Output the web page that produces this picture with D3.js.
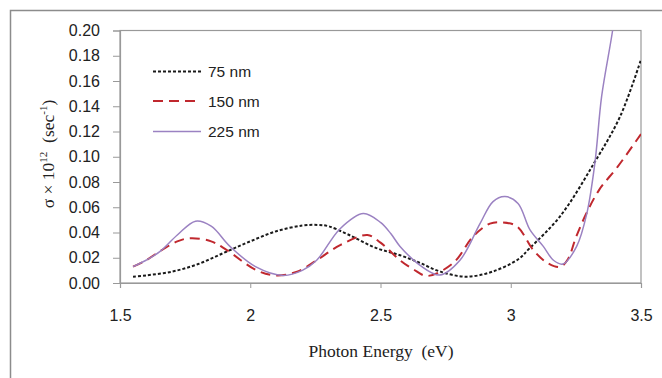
<!DOCTYPE html>
<html>
<head>
<meta charset="utf-8">
<script src="https://cdn.jsdelivr.net/npm/d3@7"></script>
<style>
  body { margin: 0; background: #fff; }
  svg { display: block; }
</style>
</head>
<body>
<svg id="chart" width="662" height="378"></svg>
<script>
// ---- data ----
const xTicks = [1.5, 2, 2.5, 3, 3.5];
const yTicks = [0, 0.02, 0.04, 0.06, 0.08, 0.10, 0.12, 0.14, 0.16, 0.18, 0.20];
const seriesNames = ["75 nm", "150 nm", "225 nm"];

const energy75 = [1.55, 1.6, 1.7, 1.8, 1.9, 2.0, 2.1, 2.2, 2.26, 2.3, 2.38, 2.48, 2.575, 2.65, 2.73, 2.83, 2.93, 3.03, 3.07, 3.19, 3.32, 3.42, 3.5];
const sigma75  = [0.005, 0.006, 0.009, 0.015, 0.024, 0.033, 0.041, 0.0455, 0.046, 0.045, 0.038, 0.028, 0.022, 0.016, 0.009, 0.005, 0.009, 0.019, 0.027, 0.053, 0.095, 0.132, 0.177];

const energy150 = [1.55, 1.6, 1.66, 1.72, 1.77, 1.85, 1.91, 2.025, 2.1, 2.18, 2.255, 2.345, 2.45, 2.5, 2.575, 2.625, 2.68, 2.78, 2.856, 2.92, 2.965, 3.023, 3.087, 3.14, 3.19, 3.22, 3.25, 3.29, 3.34, 3.41, 3.5];
const sigma150  = [0.013, 0.018, 0.026, 0.033, 0.0355, 0.033, 0.026, 0.010, 0.006, 0.009, 0.018, 0.030, 0.038, 0.032, 0.018, 0.011, 0.0056, 0.016, 0.037, 0.047, 0.048, 0.045, 0.026, 0.016, 0.0127, 0.019, 0.036, 0.055, 0.074, 0.092, 0.118];

const energy225 = [1.55, 1.6, 1.654, 1.72, 1.79, 1.85, 1.922, 2.02, 2.127, 2.2, 2.255, 2.345, 2.434, 2.5, 2.54, 2.575, 2.652, 2.728, 2.805, 2.882, 2.932, 2.978, 3.028, 3.074, 3.125, 3.164, 3.2, 3.253, 3.292, 3.323, 3.349, 3.391, 3.41];
const sigma225  = [0.013, 0.018, 0.025, 0.038, 0.049, 0.045, 0.029, 0.013, 0.006, 0.010, 0.018, 0.043, 0.055, 0.048, 0.039, 0.029, 0.014, 0.0063, 0.018, 0.047, 0.0645, 0.0685, 0.063, 0.042, 0.029, 0.018, 0.015, 0.029, 0.055, 0.095, 0.148, 0.20, 0.23];

const series = [
  { name: seriesNames[0], xs: energy75,  ys: sigma75,  color: "#1a1a1a", width: 2,   dash: "3,2" },
  { name: seriesNames[1], xs: energy150, ys: sigma150, color: "#c0282e", width: 2,   dash: "10,6" },
  { name: seriesNames[2], xs: energy225, ys: sigma225, color: "#9b82c2", width: 1.5, dash: null }
];

// ---- layout ----
const svg = d3.select("#chart");
const mLeft = 120, mRight = 641, mTop = 30.5, mBottom = 283;

const x = d3.scaleLinear().domain([1.5, 3.5]).range([mLeft, mRight]);
const y = d3.scaleLinear().domain([0, 0.20]).range([mBottom, mTop]);

// outer frame
svg.append("rect").attr("x", 10.5).attr("y", 10.5).attr("width", 700).attr("height", 400)
  .attr("fill", "none").attr("stroke", "#8c8c8c").attr("stroke-width", 1.5);

// plot border
svg.append("rect").attr("x", mLeft).attr("y", mTop).attr("width", mRight - mLeft).attr("height", mBottom - mTop)
  .attr("fill", "none").attr("stroke", "#999").attr("stroke-width", 1.2);

// y axis
const yAxis = d3.axisLeft(y).tickValues(yTicks).tickSize(7).tickPadding(13)
  .tickFormat(d3.format(".2f"));
const gy = svg.append("g").attr("transform", `translate(${mLeft},0)`).call(yAxis);
gy.select(".domain").attr("stroke", "#999").attr("stroke-width", 1.2);
gy.selectAll(".tick line").attr("stroke", "#999");
gy.selectAll("text").attr("font-family", "'Liberation Sans', Arial, sans-serif")
  .attr("font-size", 16).attr("fill", "#222");

// x axis
const xAxis = d3.axisBottom(x).tickValues(xTicks).tickSize(5).tickPadding(22)
  .tickFormat(d => String(d));
const gx = svg.append("g").attr("transform", `translate(0,${mBottom})`).call(xAxis);
gx.select(".domain").attr("stroke", "#999").attr("stroke-width", 1.2);
gx.selectAll(".tick line").attr("stroke", "#999");
gx.selectAll("text").attr("font-family", "'Liberation Sans', Arial, sans-serif")
  .attr("font-size", 16).attr("fill", "#222");

// clip
svg.append("clipPath").attr("id", "clip").append("rect")
  .attr("x", mLeft).attr("y", mTop).attr("width", mRight - mLeft).attr("height", mBottom - mTop);

const line = d3.line().x(d => x(d[0])).y(d => y(d[1])).curve(d3.curveCatmullRom.alpha(0.5));

const plot = svg.append("g").attr("clip-path", "url(#clip)");
series.forEach(s => {
  const pts = s.xs.map((v, i) => [v, s.ys[i]]);
  plot.append("path").datum(pts).attr("d", line)
    .attr("fill", "none").attr("stroke", s.color).attr("stroke-width", s.width)
    .attr("stroke-dasharray", s.dash);
});

// legend
const legY = [71.5, 101, 131.5];
series.forEach((s, i) => {
  svg.append("line").attr("x1", 153).attr("x2", 201).attr("y1", legY[i]).attr("y2", legY[i])
    .attr("stroke", s.color).attr("stroke-width", s.width).attr("stroke-dasharray", s.dash);
  svg.append("text").attr("x", 208).attr("y", legY[i] + 5.5).text(s.name)
    .attr("font-family", "'Liberation Sans', Arial, sans-serif").attr("font-size", 15.5).attr("fill", "#222");
});

// x title
svg.append("text").attr("x", 381).attr("y", 357).attr("text-anchor", "middle")
  .attr("font-family", "'Liberation Serif', 'Times New Roman', serif").attr("font-size", 17.5)
  .attr("fill", "#222").style("white-space", "pre")
  .text("Photon Energy  (eV)");

// y title
const yt = svg.append("text").attr("transform", "translate(54,154) rotate(-90)")
  .attr("text-anchor", "middle")
  .attr("font-family", "'Liberation Serif', 'Times New Roman', serif").attr("font-size", 17.5)
  .attr("fill", "#222").style("white-space", "pre");
yt.append("tspan").text("σ × 10");
yt.append("tspan").attr("dy", -7).attr("font-size", 11).text("12");
yt.append("tspan").attr("dy", 7).text("  (sec");
yt.append("tspan").attr("dy", -7).attr("font-size", 11).text("-1");
yt.append("tspan").attr("dy", 7).text(")");
</script>
</body>
</html>
